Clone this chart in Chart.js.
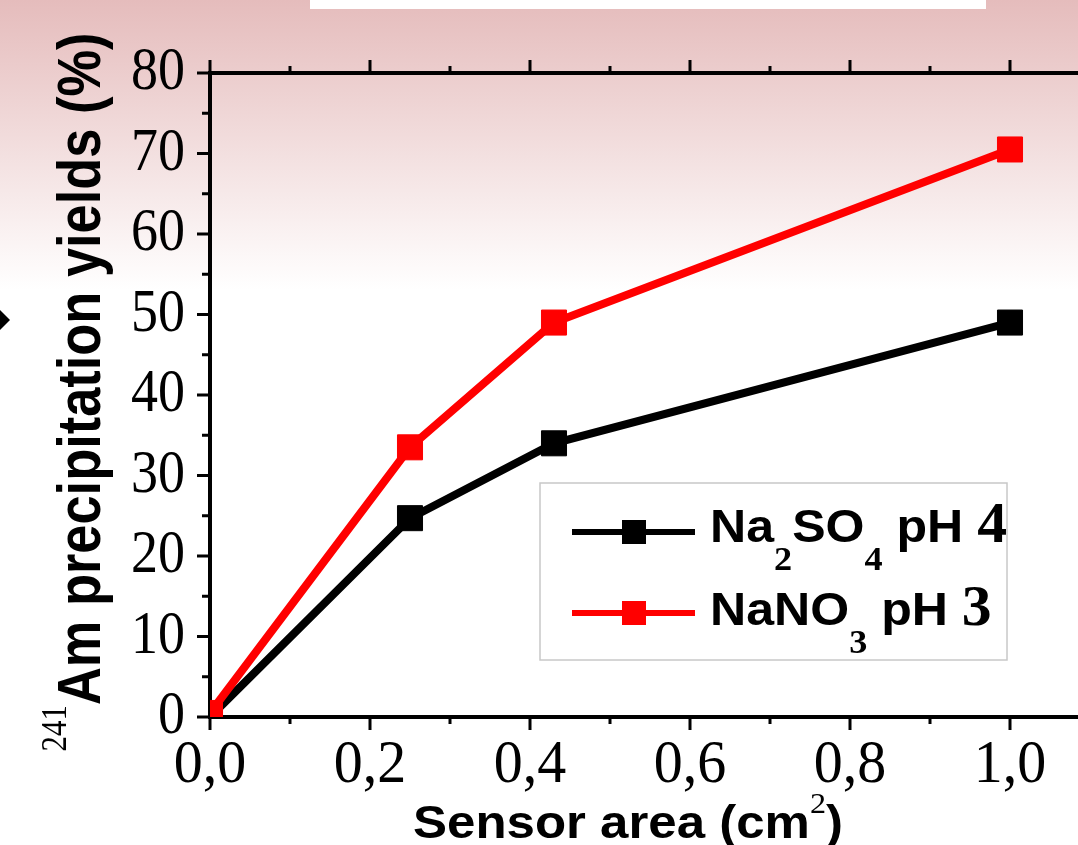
<!DOCTYPE html>
<html>
<head>
<meta charset="utf-8">
<script src="https://cdn.jsdelivr.net/npm/chart.js@4/dist/chart.umd.min.js"></script>
<style>
  html, body { margin: 0; padding: 0; }
  body {
    width: 1078px; height: 845px; overflow: hidden;
    background: linear-gradient(to bottom, #e5bcbc 0px, #ffffff 290px, #ffffff 845px);
  }
  #wrap { position: relative; width: 1078px; height: 845px; }
</style>
</head>
<body>
<div id="wrap"><canvas id="c" width="1078" height="845"></canvas></div>
<script>
// ---------- data ----------
const areas = [0, 0.25, 0.43, 1.0];                 // sensor area (cm2)
const na2so4Yields = [0, 24.7, 34, 49];              // Na2SO4 pH 4 (%)
const nano3Yields = [0.5, 33.5, 49, 70.5];           // NaNO3 pH 3 (%)
const xTickValues = [0, 0.2, 0.4, 0.6, 0.8, 1.0];
const xTickLabels = ['0,0', '0,2', '0,4', '0,6', '0,8', '1,0'];
const yTickValues = [0, 10, 20, 30, 40, 50, 60, 70, 80];
const yTickLabels = ['0', '10', '20', '30', '40', '50', '60', '70', '80'];
const xMinorStep = 0.1;
const yMinorStep = 5;

const SANS = '"Liberation Sans", Arial, sans-serif';
const SERIF = '"Liberation Serif", "Times New Roman", serif';

function drawSegs(ctx, segs, x, y, opt) {
  opt = opt || {};
  ctx.save();
  ctx.translate(x, y);
  if (opt.rotate) ctx.rotate(opt.rotate);
  const widths = segs.map(s => { ctx.font = s.font; return ctx.measureText(s.text).width; });
  const total = widths.reduce((a, b) => a + b, 0);
  const sx = opt.fitWidth ? opt.fitWidth / total : (opt.sx || 1);
  ctx.scale(sx, opt.sy || 1);
  let cx = opt.align === 'center' ? -total / 2 : opt.align === 'right' ? -total : 0;
  ctx.fillStyle = '#000';
  ctx.textBaseline = 'alphabetic';
  ctx.textAlign = 'left';
  segs.forEach((s, i) => { ctx.font = s.font; ctx.fillText(s.text, cx, s.dy || 0); cx += widths[i]; });
  ctx.restore();
  return sx;
}

const deco = {
  id: 'deco',
  beforeDraw(chart) {
    const ctx = chart.ctx;
    ctx.save();
    ctx.fillStyle = '#ffffff';
    ctx.fillRect(310, 0, 676, 9);
    ctx.fillStyle = '#000';
    ctx.beginPath();
    ctx.moveTo(10, 320); ctx.lineTo(-2, 308); ctx.lineTo(-14, 320); ctx.lineTo(-2, 332);
    ctx.closePath(); ctx.fill();
    ctx.restore();
  },
  beforeDatasetsDraw(chart) {
    const ctx = chart.ctx;
    const ca = chart.chartArea;
    const xs = chart.scales.x, ys = chart.scales.y;
    ctx.save();
    ctx.strokeStyle = '#000';
    ctx.lineCap = 'butt';
    ctx.lineWidth = 4;
    ctx.beginPath();
    ctx.moveTo(ca.left - 2, ca.top); ctx.lineTo(ca.right, ca.top);
    ctx.moveTo(ca.left - 2, ca.bottom); ctx.lineTo(ca.right, ca.bottom);
    ctx.moveTo(ca.left, ca.top); ctx.lineTo(ca.left, ca.bottom);
    ctx.stroke();
    ctx.lineWidth = 3;
    ctx.beginPath();
    const nX = Math.round(xTickValues[xTickValues.length - 1] / xMinorStep);
    for (let i = 0; i <= nX; i++) {
      const px = xs.getPixelForValue(i * xMinorStep);
      const len = i % 2 === 0 ? 13 : 7;
      ctx.moveTo(px, ca.bottom); ctx.lineTo(px, ca.bottom + len);
      ctx.moveTo(px, ca.top); ctx.lineTo(px, ca.top - len);
    }
    const nY = Math.round(yTickValues[yTickValues.length - 1] / yMinorStep);
    for (let i = 0; i <= nY; i++) {
      const py = ys.getPixelForValue(i * yMinorStep);
      const len = i % 2 === 0 ? 13 : 8;
      ctx.moveTo(ca.left, py); ctx.lineTo(ca.left - len, py);
    }
    ctx.stroke();
    ctx.restore();

    yTickValues.forEach((v, i) => {
      const py = ys.getPixelForValue(v);
      drawSegs(ctx, [{ text: yTickLabels[i], font: '54px ' + SERIF }], 185, py + 16, { align: 'right', sy: 1.15 });
    });
    xTickValues.forEach((v, i) => {
      const px = xs.getPixelForValue(v);
      drawSegs(ctx, [{ text: xTickLabels[i], font: '58px ' + SERIF }], px, 782, { align: 'center', sy: 1.07 });
    });

    drawSegs(ctx, [
      { text: 'Sensor area (cm', font: 'bold 46px ' + SANS },
      { text: '2', font: '29px ' + SERIF, dy: -25 },
      { text: ')', font: 'bold 46px ' + SANS }
    ], 628, 838, { align: 'center', fitWidth: 430 });

    drawSegs(ctx, [
      { text: '241', font: '36px ' + SERIF, dy: -34 },
      { text: 'Am precipitation yields (%)', font: 'bold 61px ' + SANS }
    ], 100, 392, { align: 'center', rotate: -Math.PI / 2, fitWidth: 719 });
  },
  afterDatasetsDraw(chart) {
    const ctx = chart.ctx;
    ctx.save();
    ctx.fillStyle = '#ffffff';
    ctx.fillRect(540, 483, 467, 177);
    ctx.strokeStyle = '#c8c8c8';
    ctx.lineWidth = 1.5;
    ctx.strokeRect(540, 483, 467, 177);
    const rows = [
      { color: chart.data.datasets[1].borderColor, ly: 532, base: 542,
        segs: [
          { text: 'Na', font: 'bold 47px ' + SANS },
          { text: '2', font: 'bold 34px ' + SERIF, dy: 28 },
          { text: 'SO', font: 'bold 47px ' + SANS },
          { text: '4', font: 'bold 34px ' + SERIF, dy: 28 },
          { text: ' pH ', font: 'bold 47px ' + SANS },
          { text: '4', font: 'bold 56px ' + SERIF }
        ] },
      { color: chart.data.datasets[0].borderColor, ly: 613, base: 625,
        segs: [
          { text: 'NaNO', font: 'bold 47px ' + SANS },
          { text: '3', font: 'bold 34px ' + SERIF, dy: 28 },
          { text: ' pH ', font: 'bold 47px ' + SANS },
          { text: '3', font: 'bold 56px ' + SERIF }
        ] }
    ];
    let sx = 1;
    rows.forEach((r, i) => {
      ctx.strokeStyle = r.color;
      ctx.fillStyle = r.color;
      ctx.lineWidth = 6;
      ctx.beginPath(); ctx.moveTo(572, r.ly); ctx.lineTo(695, r.ly); ctx.stroke();
      ctx.fillRect(634 - 12, r.ly - 12, 24, 24);
      if (i === 0) sx = drawSegs(ctx, r.segs, 710, r.base, { fitWidth: 297 });
      else drawSegs(ctx, r.segs, 710, r.base, { sx: sx });
    });
    ctx.restore();
  }
};

const toPts = vals => areas.map((a, i) => ({ x: a, y: vals[i] }));

new Chart(document.getElementById('c'), {
  type: 'line',
  data: {
    datasets: [
      { label: 'NaNO3 pH 3', data: toPts(nano3Yields), borderColor: '#ff0000', backgroundColor: '#ff0000',
        borderWidth: 8, pointStyle: 'rect', pointRadius: 17.7, pointBorderWidth: 1, pointHoverRadius: 17.7,
        tension: 0, clip: 0 },
      { label: 'Na2SO4 pH 4', data: toPts(na2so4Yields), borderColor: '#000000', backgroundColor: '#000000',
        borderWidth: 8, pointStyle: 'rect', pointRadius: 17.7, pointBorderWidth: 1, pointHoverRadius: 17.7,
        tension: 0, clip: 0 }
    ]
  },
  options: {
    responsive: false,
    animation: false,
    devicePixelRatio: 1,
    layout: { autoPadding: false, padding: { left: 210, top: 73, right: 0, bottom: 128 } },
    plugins: { legend: { display: false }, tooltip: { enabled: false } },
    events: [],
    scales: {
      x: { type: 'linear', display: false, min: 0, max: 1.085 },
      y: { type: 'linear', display: false, min: 0, max: 80 }
    }
  },
  plugins: [deco]
});
</script>
</body>
</html>
